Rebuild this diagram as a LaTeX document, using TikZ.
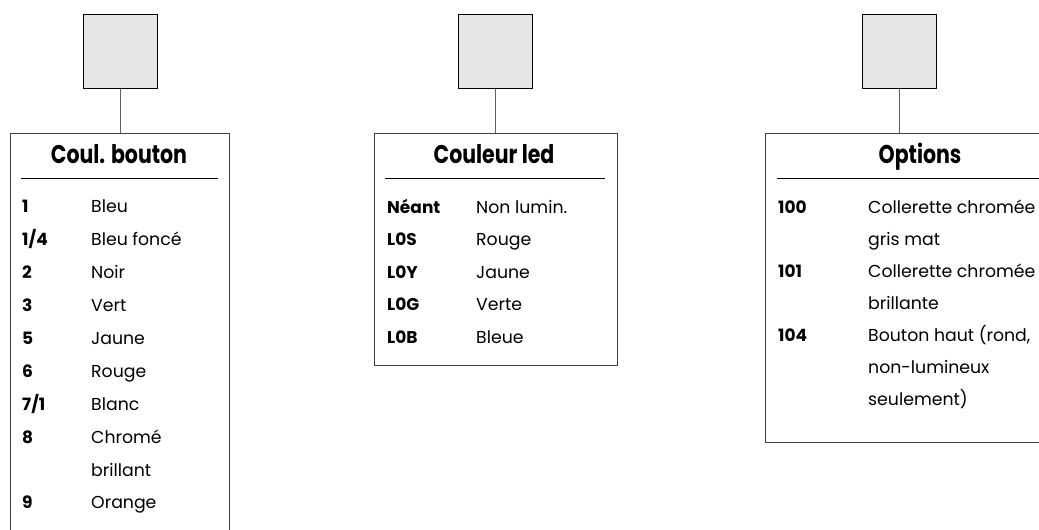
\documentclass[tikz,border=0pt]{standalone}
\usepackage{fontspec}
\setmainfont{Poppins}
\definecolor{sqgray}{HTML}{E6E6E6}
\definecolor{tabgray}{HTML}{404040}
\definecolor{conngray}{HTML}{606060}
\begin{document}
\begin{tikzpicture}[x=1pt,y=-1pt,
  sq/.style={draw=black, line width=1.4pt, fill=sqgray, minimum width=74pt, minimum height=74pt, inner sep=0pt, anchor=north west},
  tab/.style={draw=tabgray, line width=0.9pt, anchor=north west, inner sep=0pt},
  conn/.style={draw=conngray, line width=0.9pt},
  sepline/.style={draw=black, line width=0.7pt},
  key/.style={anchor=base west, inner sep=0pt, font=\bfseries\fontsize{17}{20}\selectfont},
  val/.style={anchor=base west, inner sep=0pt, font=\fontsize{17.3}{20}\selectfont},
  ttl/.style={anchor=base, inner sep=0pt, font=\bfseries\fontsize{20.5}{24}\selectfont}]
\useasboundingbox (0,0) rectangle (1039,530);
% squares
\node[sq] (s1) at (83,14) {};
\node[sq] (s2) at (458,14) {};
\node[sq] (s3) at (862,14) {};
% tables
\node[tab, minimum width=219pt, minimum height=430pt] (t1) at (10,133) {};
\node[tab, minimum width=243pt, minimum height=232pt] (t2) at (374,133) {};
\node[tab, minimum width=300pt, minimum height=309pt] (t3) at (765,133) {};
% connectors
\draw[conn] (s1.south) -- (s1.south |- t1.north);
\draw[conn] (s2.south) -- (s2.south |- t2.north);
\draw[conn] (s3.south) -- (s3.south |- t3.north);
% separators
\coordinate (a1) at (21,178); \coordinate (b1) at (218,178);
\coordinate (a2) at (385,178); \coordinate (b2) at (605,178);
\coordinate (a3) at (777,178); \coordinate (b3) at (1045,178);
\draw[sepline] (a1) -- (b1);
\draw[sepline] (a2) -- (b2);
\draw[sepline] (a3) -- (b3);
% titles
\node[ttl] (h1) at (119,163) {\scalebox{1}[1.25]{Coul. bouton}};
\node[ttl] (h2) at (494,163) {\scalebox{1}[1.25]{Couleur led}};
\node[ttl] (h3) at (920,163) {\scalebox{1}[1.25]{Options}};
% table 1
\node[key] (k11) at (22,212) {1};     \node[val] (v11) at (91,212) {Bleu};
\node[key] (k12) at (22,245) {1/4};   \node[val] (v12) at (91,245) {Bleu foncé};
\node[key] (k13) at (22,278) {2};     \node[val] (v13) at (91,278) {Noir};
\node[key] (k14) at (22,311) {3};     \node[val] (v14) at (91,311) {Vert};
\node[key] (k15) at (22,344) {5};     \node[val] (v15) at (91,344) {Jaune};
\node[key] (k16) at (22,377) {6};     \node[val] (v16) at (91,377) {Rouge};
\node[key] (k17) at (22,410) {7/1};   \node[val] (v17) at (91,410) {Blanc};
\node[key] (k18) at (22,443) {8};     \node[val] (v18) at (91,443) {Chromé};
                                      \node[val] (v18b) at (91,476) {brillant};
\node[key] (k19) at (22,508) {9};     \node[val] (v19) at (91,508) {Orange};
% table 2
\node[key] (k21) at (387,213) {Néant}; \node[val] (v21) at (476,213) {Non lumin.};
\node[key] (k22) at (387,245.5) {L0S}; \node[val] (v22) at (476,245.5) {Rouge};
\node[key] (k23) at (387,278) {L0Y};   \node[val] (v23) at (476,278) {Jaune};
\node[key] (k24) at (387,310.5) {L0G}; \node[val] (v24) at (476,310.5) {Verte};
\node[key] (k25) at (387,343) {L0B};   \node[val] (v25) at (476,343) {Bleue};
% table 3
\node[key] (k31) at (778,213) {100}; \node[val] (v31) at (868,213) {Collerette chromée};
                                     \node[val] (v31b) at (868,245) {gris mat};
\node[key] (k32) at (778,277) {101}; \node[val] (v32) at (868,277) {Collerette chromée};
                                     \node[val] (v32b) at (868,309) {brillante};
\node[key] (k33) at (778,341) {104}; \node[val] (v33) at (868,341) {Bouton haut (rond,};
                                     \node[val] (v33b) at (868,373) {non-lumineux};
                                     \node[val] (v33c) at (868,405) {seulement)};
\end{tikzpicture}
\end{document}
